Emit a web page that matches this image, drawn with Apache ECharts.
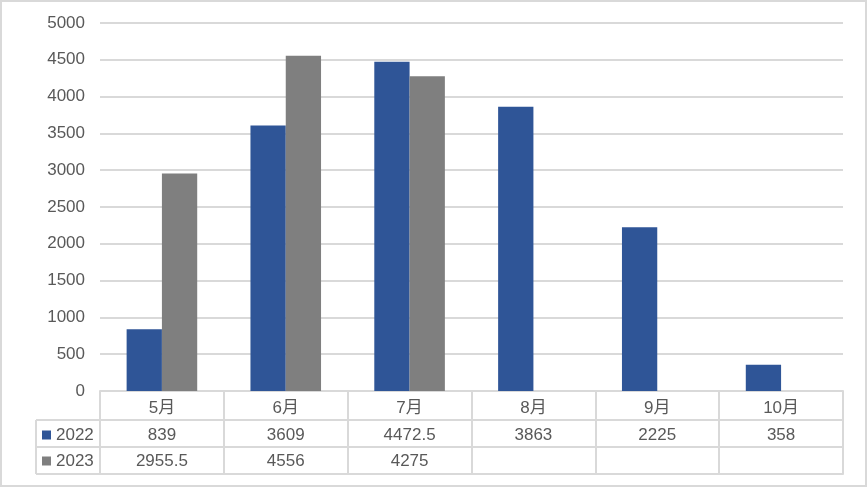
<!DOCTYPE html>
<html>
<head>
<meta charset="utf-8">
<script src="https://cdn.jsdelivr.net/npm/echarts@6/dist/echarts.min.js"></script>
<style>
html,body{margin:0;padding:0;background:#fff;}
#main{width:867px;height:487px;}
</style>
</head>
<body>
<div id="main"></div>
<script>
const categories = ['5月','6月','7月','8月','9月','10月'];
const seriesNames = ['2022','2023'];
const values2022 = [839, 3609, 4472.5, 3863, 2225, 358];
const values2023 = [2955.5, 4556, 4275, null, null, null];
const yTicks = {min: 0, max: 5000, interval: 500};

const C2022 = '#2F5597', C2023 = '#7F7F7F', LINE = '#D9D9D9', TXT = '#595959';
const FONT = '"Liberation Sans", "Noto Sans CJK SC", sans-serif';
const FS = 17;
const gridL = 100, gridR = 24, gridT = 23, gridB = 96;
const H = 487, W = 867;
const axisY = H - gridB;           // 391
const row1 = 29, row2 = 27, row3 = 27;
const headL = 36;

const fmt = v => (v === null || v === undefined) ? '' : String(v);

const chart = echarts.init(document.getElementById('main'), null, {renderer: 'canvas'});
const lbl = (m) => ({show: true, color: TXT, fontSize: FS, fontFamily: FONT, lineHeight: 18, margin: m, interval: 0});
chart.setOption({
  animation: false,
  backgroundColor: '#fff',
  textStyle: {fontFamily: FONT},
  grid: {left: gridL, right: gridR, top: gridT, bottom: gridB, containLabel: false},
  legend: {
    data: seriesNames, orient: 'vertical', left: 42, top: axisY + row1 + 6,
    itemWidth: 9, itemHeight: 9, itemGap: 8, itemTextGap: 5, icon: 'rect', padding: 0,
    textStyle: {color: TXT, fontSize: FS, fontFamily: FONT, lineHeight: 18}
  },
  xAxis: [
    {type: 'category', data: categories, position: 'bottom',
     axisLine: {show: true, lineStyle: {color: LINE, width: 2}},
     axisTick: {show: true, length: row1 + row2 + row3, interval: 0, lineStyle: {color: LINE, width: 2}},
     axisLabel: lbl(8)},
    {type: 'category', data: values2022.map(fmt), position: 'bottom', offset: row1,
     axisLine: {show: true, lineStyle: {color: LINE, width: 2}},
     axisTick: {show: false}, axisLabel: lbl(6)},
    {type: 'category', data: values2023.map(fmt), position: 'bottom', offset: row1 + row2,
     axisLine: {show: true, lineStyle: {color: LINE, width: 2}},
     axisTick: {show: false}, axisLabel: lbl(5)},
    {type: 'category', data: categories.map(() => ''), position: 'bottom', offset: row1 + row2 + row3,
     axisLine: {show: true, lineStyle: {color: LINE, width: 2}},
     axisTick: {show: false}, axisLabel: {show: false}}
  ],
  yAxis: {
    type: 'value', min: yTicks.min, max: yTicks.max, interval: yTicks.interval,
    axisLine: {show: false}, axisTick: {show: false},
    axisLabel: {color: TXT, fontSize: FS, fontFamily: FONT, margin: 15, formatter: v => String(v)},
    splitLine: {lineStyle: {color: LINE, width: 2}}
  },
  series: [
    {name: seriesNames[0], type: 'bar', data: values2022, itemStyle: {color: C2022},
     barGap: '0%', barCategoryGap: '43%'},
    {name: seriesNames[1], type: 'bar', data: values2023, itemStyle: {color: C2023},
     barGap: '0%', barCategoryGap: '43%'}
  ],
  graphic: [
    {type: 'rect', silent: true, shape: {x: 1, y: 1, width: W - 2, height: H - 2},
     style: {fill: 'none', stroke: LINE, lineWidth: 2}},
    {type: 'line', silent: true, shape: {x1: headL, y1: axisY + row1, x2: gridL, y2: axisY + row1}, style: {stroke: LINE, lineWidth: 2}},
    {type: 'line', silent: true, shape: {x1: headL, y1: axisY + row1 + row2, x2: gridL, y2: axisY + row1 + row2}, style: {stroke: LINE, lineWidth: 2}},
    {type: 'line', silent: true, shape: {x1: headL, y1: axisY + row1 + row2 + row3, x2: gridL, y2: axisY + row1 + row2 + row3}, style: {stroke: LINE, lineWidth: 2}},
    {type: 'line', silent: true, shape: {x1: headL, y1: axisY + row1, x2: headL, y2: axisY + row1 + row2 + row3}, style: {stroke: LINE, lineWidth: 2}}
  ]
});
</script>
</body>
</html>
